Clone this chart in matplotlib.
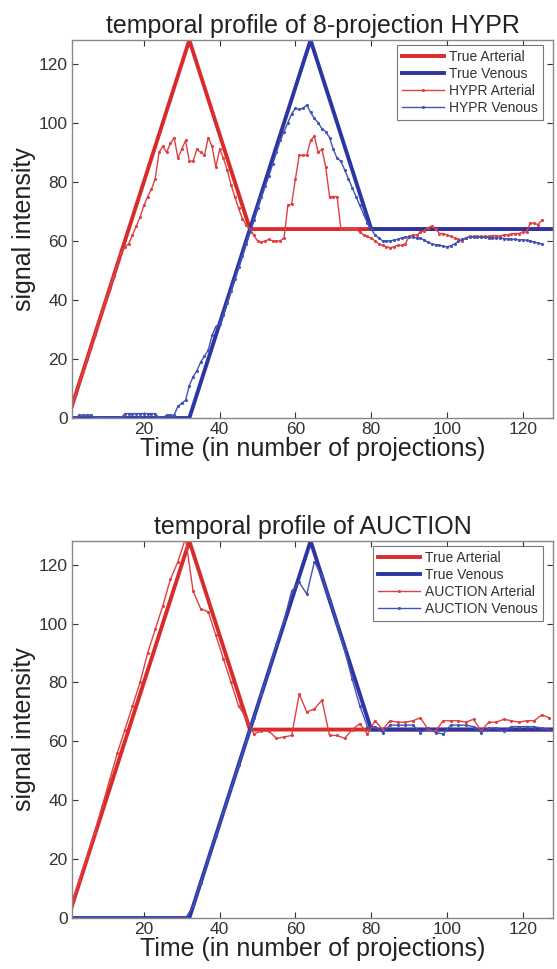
import numpy as np
import matplotlib.pyplot as plt

plt.rcParams['font.family'] = ['Liberation Sans', 'DejaVu Sans']

# true (ideal) curves, given by their break points
true_x_art = [1, 32, 48, 128]
true_y_art = [4, 128, 64, 64]
true_x_ven = [1, 32, 64, 80, 128]
true_y_ven = [0, 0, 128, 64, 64]

# HYPR reconstruction, one sample per projection (1..125)
hypr_x = np.arange(1, 126)
hypr_art = [4, 8, 12, 16, 20, 24, 28, 32, 36, 40, 44, 48, 52, 56, 58,
            59, 62, 65, 68, 72, 75, 77.5, 81, 90, 92, 90, 93, 95, 88, 91,
            94, 87, 87, 91, 90, 89, 95, 92, 85, 91, 88, 84, 79, 75, 71,
            67.5, 65.5, 64, 62, 60, 59.6, 60, 60.5, 60, 60, 60, 61, 72, 72.5, 81,
            89, 89, 89, 94, 95.5, 90, 91, 85, 75, 75, 75, 64, 64, 64, 64,
            64, 63, 62, 61.5, 61, 60, 59, 58.5, 58, 57.7, 58, 58.5, 58.5, 59, 61.5,
            62, 62, 63, 63.5, 64.5, 65, 64, 62.5, 62.5, 62, 61.5, 61, 60.5, 60, 61,
            61.5, 61.5, 61.5, 61.5, 61.5, 61.5, 61.8, 61.8, 61.5, 62, 62, 62.4, 62.5, 62.5, 63,
            63, 66, 66, 65.5, 67]
hypr_ven = [0, 0, 1, 1, 1, 1, 0, 0, 0, 0, 0, 0, 0, 0, 1.5,
            1.5, 1.5, 1.5, 1.5, 1.5, 1.5, 1.5, 1.5, 0, 0, 1, 1, 1, 4, 5,
            6, 11, 14, 16, 19, 21, 23, 28, 31, 32, 35, 39, 43, 47, 51,
            55, 59, 63, 67, 71, 75, 78.5, 82, 86, 90, 94, 97, 100, 103, 105,
            104.5, 105, 106, 103.5, 101.5, 100, 98, 97, 95, 91, 88, 87, 84, 81, 78,
            75, 72, 69, 66, 64, 62, 61, 60, 60, 60, 60.3, 60.5, 61, 61.3, 61.3,
            61.3, 61, 61, 60.3, 59.5, 59, 58.7, 58.5, 58.2, 58, 58.3, 59, 59.8, 60.5, 61,
            61.3, 61.3, 61.3, 61.2, 61.2, 61.1, 61, 61, 61, 60.8, 60.7, 60.6, 60.5, 60.4, 60.4,
            60.2, 60, 59.6, 59.3, 59]

# AUCTION reconstruction, every second projection (1, 3, ..., 127)
auc_x = np.arange(1, 128, 2)
auc_art = [4, 13, 21, 29, 38, 47, 56, 64, 72, 80, 90, 98, 106, 115, 121,
           129, 111, 105, 104, 96, 88, 80, 72, 68, 62.5, 63.5, 63.5, 61, 61.5, 62,
           76, 70, 71, 74, 62, 62, 61, 64, 66, 62.5, 67, 64, 67, 66.5, 66.5,
           67, 68, 64, 63.5, 67, 67, 67, 66.5, 67.5, 63.5, 66.5, 66.5, 67.5, 67, 66.5,
           67, 67, 69, 68]
auc_ven = [0, 0, 0, 0, 0, 0, 0, 0, 0, 0, 0, 0, 0, 0, 0,
           0, 4, 12, 20, 28, 36, 44, 52, 60, 68, 76, 84, 93, 101, 111,
           114, 110, 121, 116, 108, 100, 91, 81, 72, 65, 65, 63, 65.5, 65.5, 65.5,
           65.5, 63, 64.5, 63, 62.5, 65.5, 65.5, 65.5, 65, 63, 64.5, 64.5, 63.5, 65, 65,
           65, 65, 64.5, 64]

RED = '#d92b2b'
BLUE = '#2b36a3'
RED_THIN = '#e04040'
BLUE_THIN = '#4352b5'


def draw(ax, x, art, ven, name, title):
    ax.plot(true_x_art, true_y_art, color=RED, lw=2.8, label='True Arterial')
    ax.plot(true_x_ven, true_y_ven, color=BLUE, lw=2.8, label='True Venous')
    ax.plot(x, art, color=RED_THIN, lw=1.0, marker='.', ms=2.5, label=name + ' Arterial')
    ax.plot(x, ven, color=BLUE_THIN, lw=1.0, marker='.', ms=2.5, label=name + ' Venous')
    ax.set_xlim(1, 128)
    ax.set_ylim(0, 128)
    ax.set_xticks([20, 40, 60, 80, 100, 120])
    ax.set_yticks([0, 20, 40, 60, 80, 100, 120])
    ax.tick_params(direction='in', top=True, right=True, labelsize=12.5,
                   colors='#333333', length=4, width=0.8, pad=3)
    for s in ax.spines.values():
        s.set_color('#888888')
        s.set_linewidth(1.0)
    ax.set_title(title, fontsize=18, color='#222222', pad=5)
    ax.set_xlabel('Time (in number of projections)', fontsize=18, color='#222222', labelpad=0)
    ax.set_ylabel('signal intensity', fontsize=18, color='#222222', labelpad=2)
    leg = ax.legend(loc='upper right', bbox_to_anchor=(0.979, 0.987), borderaxespad=0,
                    fontsize=10, frameon=True, fancybox=False,
                    edgecolor='#555555', handlelength=3.0, borderpad=0.35,
                    labelspacing=0.22, handletextpad=0.4)
    leg.get_frame().set_linewidth(0.8)
    for t in leg.get_texts():
        t.set_color('#333333')


fig = plt.figure(figsize=(5.57, 9.69), dpi=100)
ax1 = fig.add_axes([0.129, 0.5686, 0.864, 0.390])
ax2 = fig.add_axes([0.129, 0.0526, 0.864, 0.389])

draw(ax1, hypr_x, hypr_art, hypr_ven, 'HYPR', 'temporal profile of 8-projection HYPR')
draw(ax2, auc_x, auc_art, auc_ven, 'AUCTION', 'temporal profile of AUCTION')

fig.savefig('out.png', dpi=100)
